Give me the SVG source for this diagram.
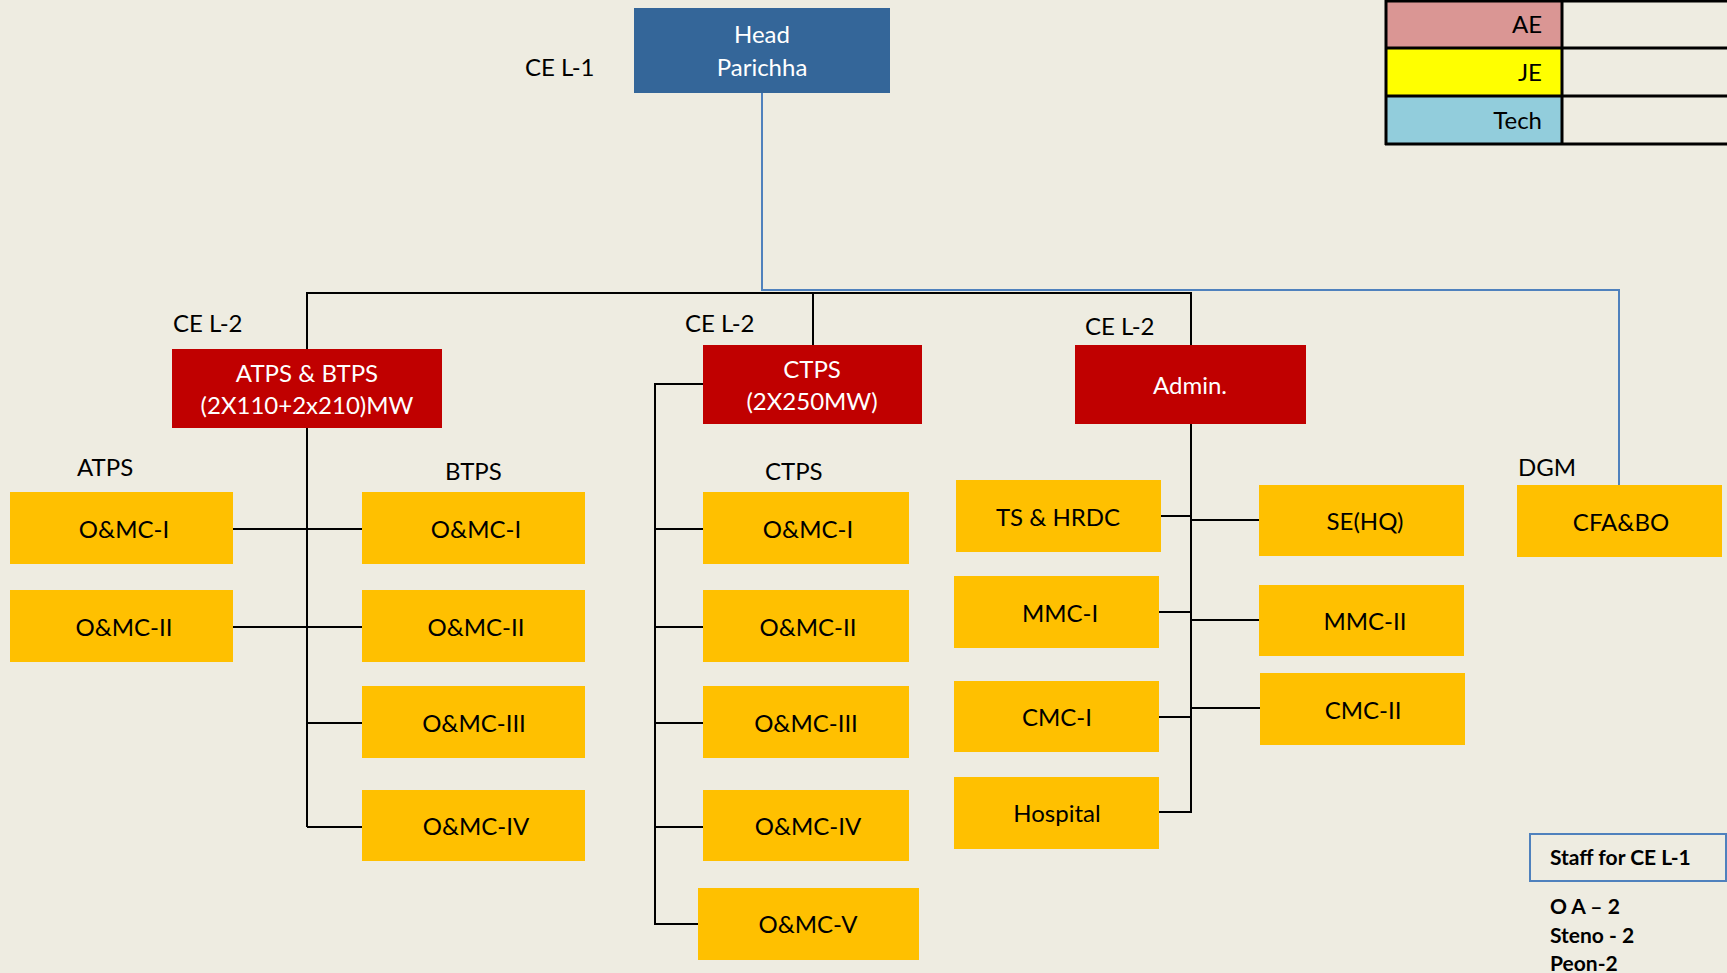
<svg xmlns="http://www.w3.org/2000/svg" width="1727" height="973" viewBox="0 0 1727 973">
<style>
text{font-family:Lato,"Open Sans","Liberation Sans",sans-serif;font-size:24px;fill:#000}
.c{text-anchor:middle}
.w{fill:#fff}
.y{fill:#FFC000}
.r{fill:#C00000}
.k{stroke:#000;stroke-width:2;fill:none}
.b{stroke:#4F81BD;stroke-width:2;fill:none}
.bold{font-weight:bold;font-size:21px}
</style>
<rect width="1727" height="973" fill="#EEECE1"/>

<g id="legend">
<rect x="1385" y="1" width="177" height="47" fill="#DA9694"/>
<rect x="1385" y="48" width="177" height="48" fill="#FFFF00"/>
<rect x="1385" y="96" width="177" height="48" fill="#92CDDC"/>
<path d="M1385 1H1727M1385 48H1727M1385 96H1727M1385 144H1727M1386 0V145M1562 0V145" stroke="#000" stroke-width="3" fill="none"/>
<text x="1542" y="33" text-anchor="end">AE</text>
<text x="1542" y="81" text-anchor="end">JE</text>
<text x="1542" y="129" text-anchor="end">Tech</text>
</g>

<g id="connectors">
<path class="b" d="M762 93V290H1619V485"/>
<path class="k" d="M307 349V293H1191V345M813 293V345"/>
<path class="k" d="M307 428V827M233 529H362M233 627H362M307 723H362M307 827H362"/>
<path class="k" d="M703 384H655V924H698M655 529H703M655 627H703M655 723H703M655 827H703"/>
<path class="k" d="M1191 424V812H1159M1161 516H1191M1191 520H1259M1159 612H1191M1191 620H1259M1159 717H1191M1191 708H1260"/>
</g>

<g id="head">
<rect x="634" y="8" width="256" height="85" fill="#346699"/>
<text class="c w" x="762" y="43">Head</text>
<text class="c w" x="762" y="76">Parichha</text>
</g>
<text id="lbl-cel1" x="525" y="76">CE L-1</text>

<g id="atps-btps">
<rect class="r" x="172" y="349" width="270" height="79"/>
<text class="c w" x="307" y="382">ATPS &amp; BTPS</text>
<text class="c w" x="307" y="414">(2X110+2x210)MW</text>
</g>
<text id="lbl-cel2a" x="173" y="332">CE L-2</text>

<g id="ctps">
<rect class="r" x="703" y="345" width="219" height="79"/>
<text class="c w" x="812" y="378">CTPS</text>
<text class="c w" x="812" y="410">(2X250MW)</text>
</g>
<text id="lbl-cel2b" x="685" y="332">CE L-2</text>

<g id="admin">
<rect class="r" x="1075" y="345" width="231" height="79"/>
<text class="c w" x="1190" y="394">Admin.</text>
</g>
<text id="lbl-cel2c" x="1085" y="335">CE L-2</text>

<text id="lbl-atps" x="77" y="476">ATPS</text>
<text id="lbl-btps" x="445" y="480">BTPS</text>
<text id="lbl-ctps" x="765" y="480">CTPS</text>
<text id="lbl-dgm" x="1518" y="476">DGM</text>

<g id="atps-omc1"><rect class="y" x="10" y="492" width="223" height="72"/><text class="c" x="124" y="538">O&amp;MC-I</text></g>
<g id="atps-omc2"><rect class="y" x="10" y="590" width="223" height="72"/><text class="c" x="124" y="636">O&amp;MC-II</text></g>

<g id="btps-omc1"><rect class="y" x="362" y="492" width="223" height="72"/><text class="c" x="476" y="538">O&amp;MC-I</text></g>
<g id="btps-omc2"><rect class="y" x="362" y="590" width="223" height="72"/><text class="c" x="476" y="636">O&amp;MC-II</text></g>
<g id="btps-omc3"><rect class="y" x="362" y="686" width="223" height="72"/><text class="c" x="474" y="732">O&amp;MC-III</text></g>
<g id="btps-omc4"><rect class="y" x="362" y="790" width="223" height="71"/><text class="c" x="476" y="835">O&amp;MC-IV</text></g>

<g id="ctps-omc1"><rect class="y" x="703" y="492" width="206" height="72"/><text class="c" x="808" y="538">O&amp;MC-I</text></g>
<g id="ctps-omc2"><rect class="y" x="703" y="590" width="206" height="72"/><text class="c" x="808" y="636">O&amp;MC-II</text></g>
<g id="ctps-omc3"><rect class="y" x="703" y="686" width="206" height="72"/><text class="c" x="806" y="732">O&amp;MC-III</text></g>
<g id="ctps-omc4"><rect class="y" x="703" y="790" width="206" height="71"/><text class="c" x="808" y="835">O&amp;MC-IV</text></g>
<g id="ctps-omc5"><rect class="y" x="698" y="888" width="221" height="72"/><text class="c" x="808" y="933">O&amp;MC-V</text></g>

<g id="ts-hrdc"><rect class="y" x="956" y="480" width="205" height="72"/><text class="c" x="1058" y="526">TS &amp; HRDC</text></g>
<g id="mmc1"><rect class="y" x="954" y="576" width="205" height="72"/><text class="c" x="1060" y="622">MMC-I</text></g>
<g id="cmc1"><rect class="y" x="954" y="681" width="205" height="71"/><text class="c" x="1057" y="726">CMC-I</text></g>
<g id="hospital"><rect class="y" x="954" y="777" width="205" height="72"/><text class="c" x="1057" y="822">Hospital</text></g>

<g id="sehq"><rect class="y" x="1259" y="485" width="205" height="71"/><text class="c" x="1365" y="530">SE(HQ)</text></g>
<g id="mmc2"><rect class="y" x="1259" y="585" width="205" height="71"/><text class="c" x="1365" y="630">MMC-II</text></g>
<g id="cmc2"><rect class="y" x="1260" y="673" width="205" height="72"/><text class="c" x="1363" y="719">CMC-II</text></g>

<g id="cfabo"><rect class="y" x="1517" y="485" width="205" height="72"/><text class="c" x="1621" y="531">CFA&amp;BO</text></g>

<g id="staff">
<rect x="1530" y="834" width="196" height="47" fill="none" stroke="#4F81BD" stroke-width="2"/>
<text class="bold" x="1550" y="865">Staff for CE L-1</text>
<text class="bold" x="1550" y="914">O A – 2</text>
<text class="bold" x="1550" y="943">Steno - 2</text>
<text class="bold" x="1550" y="971">Peon-2</text>
</g>
</svg>
